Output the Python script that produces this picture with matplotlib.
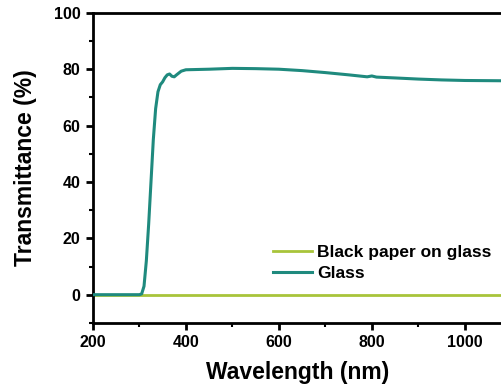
import matplotlib.pyplot as plt
from matplotlib.ticker import MultipleLocator

plt.rcParams['font.family'] = ['Liberation Sans', 'DejaVu Sans']
plt.rcParams['font.weight'] = 'bold'

# Glass transmittance spectrum (wavelength in nm, transmittance in %)
glass_wl = [200, 250, 300, 305, 310, 315, 320, 325, 330, 335, 340, 345, 350,
            355, 360, 365, 370, 375, 380, 390, 400, 450, 500, 550, 600, 650,
            700, 750, 790, 800, 810, 850, 900, 950, 1000, 1080]
glass_t = [0, 0, 0, 0.3, 3, 12, 25, 40, 55, 66, 72, 74.5, 75.5,
           77, 78, 78.3, 77.5, 77.3, 78, 79.3, 79.8, 80.0, 80.3, 80.2, 80.0, 79.5,
           78.8, 78.0, 77.3, 77.6, 77.2, 76.9, 76.5, 76.2, 76.0, 75.9]

# Black paper on glass blocks everything
paper_wl = [200, 1080]
paper_t = [0, 0]

fig = plt.figure(figsize=(5.02, 3.89), dpi=100)
ax = fig.add_axes([0.185, 0.17, 0.815, 0.797])

ax.plot(paper_wl, paper_t, color='#a8c43a', lw=2, label='Black paper on glass', zorder=2)
ax.plot(glass_wl, glass_t, color='#1f8a7e', lw=2.2, label='Glass', zorder=3)

ax.set_xlim(200, 1080)
ax.set_ylim(-10, 100)
ax.xaxis.set_major_locator(MultipleLocator(200))
ax.xaxis.set_minor_locator(MultipleLocator(100))
ax.yaxis.set_major_locator(MultipleLocator(20))
ax.yaxis.set_minor_locator(MultipleLocator(10))

ax.spines['right'].set_visible(False)
for s in ['left', 'bottom', 'top']:
    ax.spines[s].set_linewidth(2)

ax.tick_params(which='major', direction='out', length=5, width=2, labelsize=11.5, pad=4)
ax.tick_params(which='minor', direction='out', length=3, width=1.5)
ax.tick_params(top=False, right=False, which='both')

ax.set_xlabel('Wavelength (nm)', fontsize=16.5, fontweight='bold', labelpad=8)
ax.set_ylabel('Transmittance (%)', fontsize=16.5, fontweight='bold', labelpad=12)

ax.legend(loc='upper left', bbox_to_anchor=(0.42, 0.28), frameon=False,
          prop={'size': 12.5, 'weight': 'bold'}, handlelength=2.2,
          handletextpad=0.3, labelspacing=0.35, borderpad=0)

fig.savefig('out.png', dpi=100)
